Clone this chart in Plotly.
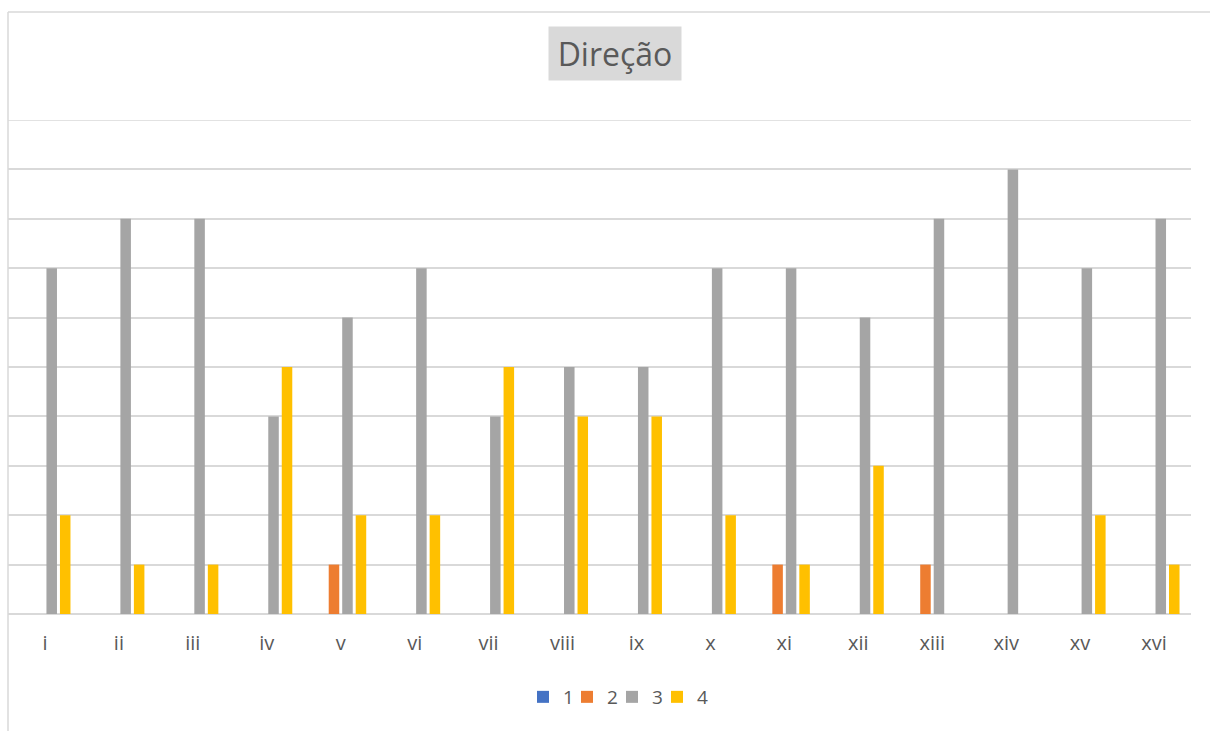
import plotly.graph_objects as go

categories = ["i", "ii", "iii", "iv", "v", "vi", "vii", "viii", "ix", "x", "xi", "xii", "xiii", "xiv", "xv", "xvi"]
series_names = ["1", "2", "3", "4"]
s1 = [0] * 16
s2 = [0, 0, 0, 0, 1, 0, 0, 0, 0, 0, 1, 0, 1, 0, 0, 0]
s3 = [7, 8, 8, 4, 6, 7, 4, 5, 5, 7, 7, 6, 8, 9, 7, 8]
s4 = [2, 1, 1, 5, 2, 2, 5, 4, 4, 2, 1, 3, 0, 0, 2, 1]
colors = ["#4472C4", "#ED7D31", "#A5A5A5", "#FFC000"]

W, H = 1210, 731
L, R, T, B = 8, 19, 120, 117
plot_w = W - L - R
plot_h = H - T - B
YMAX = 10

def px_x(p):
    return (p - L) / plot_w

def px_y(p):
    return (H - B - p) / plot_h

legend_ids = ["legend", "legend2", "legend3", "legend4"]
legend_px = [537, 581, 626, 671]

fig = go.Figure()
for name, vals, c, lg in zip(series_names, [s1, s2, s3, s4], colors, legend_ids):
    fig.add_trace(go.Bar(x=categories, y=vals, name=name, legend=lg,
                         marker=dict(color=c, line=dict(width=0))))

grid = "#d9d9d9"
legend_layout = {}
for lg, lx in zip(legend_ids, legend_px):
    legend_layout[lg] = dict(orientation="h", x=px_x(lx - 14), xanchor="left", y=px_y(697), yanchor="middle",
                             font=dict(size=19, color="#595959"), bgcolor="rgba(0,0,0,0)",
                             itemwidth=30)

fig.update_layout(
    width=W, height=H,
    margin=dict(l=L, r=R, t=T, b=B, pad=0),
    paper_bgcolor="white", plot_bgcolor="white",
    barmode="group", bargap=0.27, bargroupgap=0.22,
    font=dict(family="Open Sans, Segoe UI, sans-serif", color="#595959"),
    showlegend=True,
    xaxis=dict(showgrid=False, showline=False, ticks="", tickfont=dict(size=20, color="#595959"),
               ticklabelstandoff=15, fixedrange=True),
    yaxis=dict(range=[0, YMAX], dtick=1, showticklabels=False, showgrid=True, gridcolor=grid, gridwidth=1.5,
               zeroline=True, zerolinecolor=grid, zerolinewidth=1.5, showline=False, ticks=""),
    annotations=[dict(text="Direção", xref="paper", yref="paper", x=px_x(615), y=px_y(54),
                      xanchor="center", yanchor="middle", showarrow=False,
                      font=dict(size=32, color="#595959"), bgcolor="#d9d9d9",
                      width=132, height=53, borderpad=0)],
    shapes=[
        dict(type="line", xref="paper", yref="y", x0=0, x1=1, y0=YMAX, y1=YMAX, layer="below",
             line=dict(color=grid, width=1.5)),
        dict(type="line", xref="paper", yref="paper", x0=px_x(8), x1=px_x(8), y0=px_y(12), y1=px_y(760),
             line=dict(color=grid, width=1.5)),
        dict(type="line", xref="paper", yref="paper", x0=px_x(8), x1=px_x(1240), y0=px_y(12), y1=px_y(12),
             line=dict(color=grid, width=1.5)),
    ],
    **legend_layout,
)

fig.write_html("out.html")
